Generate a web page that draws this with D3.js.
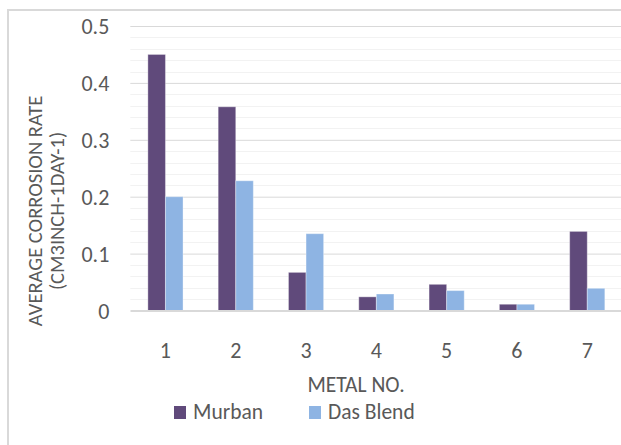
<!DOCTYPE html>
<html>
<head>
<meta charset="utf-8">
<script src="https://cdn.jsdelivr.net/npm/d3@7"></script>
<style>
  html, body { margin: 0; padding: 0; background: #fff; }
  svg { display: block; }
  text { font-family: Carlito, "Liberation Sans Narrow", "DejaVu Sans Condensed", "Liberation Sans", sans-serif; fill: #595959; }
</style>
</head>
<body>
<svg id="chart" width="621" height="445"></svg>
<script>
// Average corrosion rate per metal for two crude oils
const metals = ["1", "2", "3", "4", "5", "6", "7"];
const seriesNames = ["Murban", "Das Blend"];
const murban = [0.45, 0.358, 0.067, 0.024, 0.046, 0.011, 0.139];
const dasBlend = [0.20, 0.228, 0.135, 0.029, 0.035, 0.011, 0.039];
const yTicks = [0, 0.1, 0.2, 0.3, 0.4, 0.5];
const colors = ["#604A7B", "#8EB4E3"];

const svg = d3.select("#chart");

// outer chart frame
svg.append("rect")
  .attr("x", 8).attr("y", 10)
  .attr("width", 640).attr("height", 460)
  .attr("fill", "none").attr("stroke", "#d9d9d9").attr("stroke-width", 2);

const plotLeft = 130.3, plotRight = 622.4, plotTop = 26, plotBottom = 310.5;

const x = d3.scaleBand().domain(metals).range([plotLeft, plotRight]).paddingInner(0).paddingOuter(0);
const x1 = d3.scaleBand().domain(seriesNames).range([x.bandwidth() / 4, x.bandwidth() * 3 / 4]);
const y = d3.scaleLinear().domain([0, 0.5]).range([plotBottom, plotTop]);

// minor gridlines every 0.02
const minor = d3.range(0.02, 0.5, 0.02).filter(v => Math.abs(v * 10 - Math.round(v * 10)) > 1e-6);
svg.append("g").selectAll("line").data(minor).join("line")
  .attr("x1", plotLeft).attr("x2", plotRight)
  .attr("y1", d => Math.round(y(d)) + 0.5).attr("y2", d => Math.round(y(d)) + 0.5)
  .attr("stroke", "#f2f2f2").attr("stroke-width", 1);

// major gridlines with tick labels
const yAxis = d3.axisLeft(y).tickValues(yTicks).tickFormat(d => d === 0 ? "0" : d3.format(".1f")(d)).tickSize(0).tickPadding(0);
const gy = svg.append("g").attr("transform", `translate(${plotLeft},0)`).call(yAxis);
gy.select(".domain").remove();
gy.selectAll(".tick line").attr("x2", plotRight - plotLeft).attr("stroke", "#d9d9d9").attr("stroke-width", 1);
gy.selectAll(".tick text").attr("x", -21).attr("dy", "0.35em")
  .style("font-size", "22px").attr("fill", "#595959");

// bars
const rows = metals.map((m, i) => ({ m, vals: [murban[i], dasBlend[i]] }));
svg.append("g").selectAll("g").data(rows).join("g")
  .attr("transform", d => `translate(${x(d.m)},0)`)
  .selectAll("rect").data(d => d.vals.map((v, j) => ({ key: seriesNames[j], v, j })))
  .join("rect")
  .attr("x", d => x1(d.key))
  .attr("width", x1.bandwidth())
  .attr("y", d => y(d.v))
  .attr("height", d => y(0) - y(d.v))
  .attr("fill", d => colors[d.j])
  .attr("stroke", "#ffffff").attr("stroke-opacity", 0.35).attr("stroke-width", 1);

// x axis
const xAxis = d3.axisBottom(x).tickSize(0).tickPadding(0);
const gx = svg.append("g").attr("transform", `translate(0,${plotBottom})`).call(xAxis);
gx.select(".domain").attr("stroke", "#d9d9d9").attr("stroke-width", 2);
gx.selectAll(".tick text").attr("y", 47).attr("dy", 0)
  .style("font-size", "22px").attr("fill", "#595959");

// axis titles
svg.append("text")
  .attr("x", 356).attr("y", 392)
  .attr("text-anchor", "middle")
  .style("font-size", "21.5px")
  .text("METAL NO.");

const yTitle = svg.append("text")
  .attr("transform", "translate(0,211) rotate(-90)")
  .attr("text-anchor", "middle")
  .style("font-size", "20.5px");
yTitle.append("tspan").attr("x", 0).attr("y", 42).text("AVERAGE CORROSION RATE");
yTitle.append("tspan").attr("x", 0).attr("y", 64).text("(CM3INCH-1DAY-1)");

// legend
const legendPos = [174, 309];
const lg = svg.append("g").selectAll("g").data(seriesNames).join("g")
  .attr("transform", (d, i) => `translate(${legendPos[i]},406)`);
lg.append("rect").attr("width", 12).attr("height", 13).attr("fill", (d, i) => colors[i]);
lg.append("text").attr("x", 19).attr("y", 13).style("font-size", "21.5px").text(d => d);
</script>
</body>
</html>
